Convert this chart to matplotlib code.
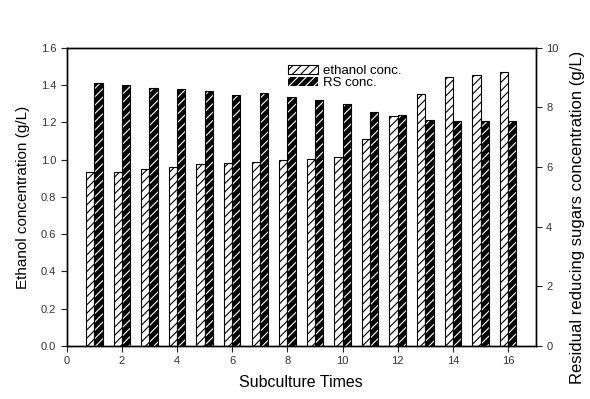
import numpy as np
import matplotlib
matplotlib.use('Agg')
import matplotlib.pyplot as plt
from matplotlib.patches import Patch

# - Data
times = np.arange(1, 17)
ethanol_conc = [0.932, 0.935, 0.951, 0.960, 0.974, 0.983, 0.986, 1.000,
                1.006, 1.012, 1.111, 1.232, 1.354, 1.446, 1.455, 1.468]
rs_conc = [8.82, 8.76, 8.65, 8.61, 8.54, 8.42, 8.49, 8.35,
           8.25, 8.12, 7.85, 7.76, 7.59, 7.54, 7.54, 7.54]

plt.rcParams['font.family'] = ['Liberation Sans', 'DejaVu Sans']
plt.rcParams['hatch.linewidth'] = 0.8

fig = plt.figure(figsize=(5.9, 3.99), dpi=100)
ax = fig.add_axes([0.113, 0.133, 0.795, 0.747])
ax2 = ax.twinx()

# - Ethanol bars: white with black hatch, left of each tick
ax.bar(times, ethanol_conc, width=-0.3, align='edge', facecolor='white',
       edgecolor='black', hatch='////', linewidth=0.8)

# - RS bars: black with white hatch, right of each tick (drawn on right scale)
ax2.bar(times, rs_conc, width=0.3, align='edge', facecolor='black',
        edgecolor='white', hatch='////', linewidth=0)
ax2.bar(times, rs_conc, width=0.3, align='edge', fill=False,
        edgecolor='black', linewidth=0.8)

# -- Axis limits and ticks
ax.set_xlim(0, 17)
ax.set_ylim(0, 1.6)
ax2.set_ylim(0, 10)
ax.set_xticks(np.arange(0, 17, 2))
ax.set_yticks(np.arange(0, 1.61, 0.2))
ax.set_yticklabels([f'{v:.1f}' for v in np.arange(0, 1.61, 0.2)])
ax2.set_yticks(np.arange(0, 11, 2))

for a in (ax, ax2):
    a.tick_params(direction='out', length=4, width=0.8, labelsize=8,
                  colors='#222222', labelcolor='#333333')
    for s in a.spines.values():
        s.set_linewidth(1.0)

# -- Labels
ax.set_xlabel('Subculture Times', fontsize=11.5, labelpad=6)
ax.set_ylabel('Ethanol concentration (g/L)', fontsize=11, labelpad=8)
ax2.set_ylabel('Residual reducing sugars concentration (g/L)', fontsize=12,
               va='center')
ax2.yaxis.set_label_coords(1.09, 0.43)

# -- Legend
handles = [Patch(facecolor='white', edgecolor='black', hatch='////', lw=0.8),
           Patch(facecolor='black', edgecolor='white', hatch='////', lw=0)]
ax2.legend(handles, ['ethanol conc.', 'RS conc.'], loc='upper left',
           bbox_to_anchor=(0.46, 0.96), frameon=False, fontsize=9.5,
           handlelength=2.3, handleheight=0.6, labelspacing=0.0,
           handletextpad=0.4, borderaxespad=0)

plt.savefig('out.png', dpi=100)
